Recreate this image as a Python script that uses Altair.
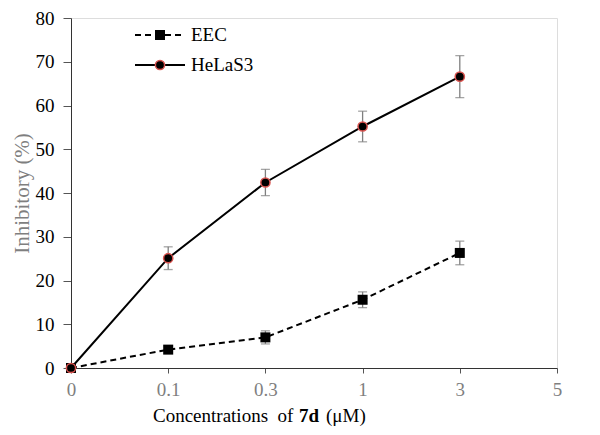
import altair as alt
import pandas as pd

# ---- data ----
x_tick_labels = ["0", "0.1", "0.3", "1", "3", "5"]
conc_points = ["0", "0.1", "0.3", "1", "3"]
series_names = ["EEC", "HeLaS3"]
eec_values = [0.0, 4.2, 7.0, 15.6, 26.3]
eec_errors = [0.0, 0.8, 1.5, 1.8, 2.7]
hela_values = [0.0, 25.1, 42.4, 55.2, 66.6]
hela_errors = [0.0, 2.6, 3.0, 3.5, 4.8]

rows = []
for name, vals, errs in [("EEC", eec_values, eec_errors), ("HeLaS3", hela_values, hela_errors)]:
    for i, (c, v, e) in enumerate(zip(conc_points, vals, errs)):
        rows.append({"series": name, "conc": c, "idx": i, "value": v,
                     "lo": v - e, "hi": v + e, "err": e})
df = pd.DataFrame(rows)

FONT = "Liberation Serif"
label_expr = "[" + ",".join("'%s'" % s for s in x_tick_labels) + "][datum.value]"

x_enc = alt.X("idx:Q", scale=alt.Scale(domain=[0, 5]),
              axis=alt.Axis(values=list(range(len(x_tick_labels))), labelExpr=label_expr,
                            title=None, grid=False, tickSize=5, labelPadding=7, labelFlush=False,
                            labelColor="#7f7f7f", labelFont=FONT, labelFontSize=19,
                            tickColor="#555555", domainColor="#333333"))
y_scale = alt.Scale(domain=[0, 80])
y_axis = alt.Axis(values=list(range(0, 81, 10)), grid=False, tickSize=8, labelPadding=9,
                  labelFlush=False,
                  labelColor="#000000", labelFont=FONT, labelFontSize=19,
                  tickColor="#555555", domainColor="#333333",
                  title="Inhibitory (%)", titleFont=FONT, titleFontSize=21,
                  titleFontWeight="normal", titleColor="#7f7f7f", titlePadding=3)

err_df = df[df["err"] > 0]
err_rule = alt.Chart(err_df).mark_rule(color="#7f7f7f", strokeWidth=1.3).encode(
    x=x_enc, y=alt.Y("lo:Q", scale=y_scale, axis=y_axis), y2="hi:Q")
cap_lo = alt.Chart(err_df).mark_tick(color="#7f7f7f", thickness=1.3, size=9, orient="horizontal").encode(
    x=x_enc, y=alt.Y("lo:Q", scale=y_scale))
cap_hi = alt.Chart(err_df).mark_tick(color="#7f7f7f", thickness=1.3, size=9, orient="horizontal").encode(
    x=x_enc, y=alt.Y("hi:Q", scale=y_scale))

eec_df = df[df["series"] == "EEC"]
hela_df = df[df["series"] == "HeLaS3"]

eec_line = alt.Chart(eec_df).mark_line(color="black", strokeWidth=2, strokeDash=[6, 4]).encode(
    x=x_enc, y=alt.Y("value:Q", scale=y_scale))
hela_line = alt.Chart(hela_df).mark_line(color="black", strokeWidth=2).encode(
    x=x_enc, y=alt.Y("value:Q", scale=y_scale))
eec_pts = alt.Chart(eec_df).mark_point(shape="square", filled=True, color="black", size=100, opacity=1).encode(
    x=x_enc, y=alt.Y("value:Q", scale=y_scale))
hela_pts = alt.Chart(hela_df).mark_point(shape="circle", filled=True, fill="black", stroke="#d9534f",
                                         strokeWidth=1.5, size=85, opacity=1).encode(
    x=x_enc, y=alt.Y("value:Q", scale=y_scale))

# ---- legend (manual) ----
leg_eec = pd.DataFrame({"label": [series_names[0]]})
leg_hela = pd.DataFrame({"label": [series_names[1]]})
lg1_line = alt.Chart(leg_eec).mark_rule(color="black", strokeWidth=2, strokeDash=[6, 4]).encode(
    x=alt.value(64), x2=alt.value(114), y=alt.value(17))
lg1_pt = alt.Chart(leg_eec).mark_point(shape="square", filled=True, color="black", size=100, opacity=1).encode(
    x=alt.value(89), y=alt.value(17))
lg1_txt = alt.Chart(leg_eec).mark_text(font=FONT, fontSize=19, align="left", baseline="middle", color="black").encode(
    x=alt.value(120), y=alt.value(17), text="label:N")
lg2_line = alt.Chart(leg_hela).mark_rule(color="black", strokeWidth=2).encode(
    x=alt.value(64), x2=alt.value(114), y=alt.value(47))
lg2_pt = alt.Chart(leg_hela).mark_point(shape="circle", filled=True, fill="black", stroke="#d9534f",
                                        strokeWidth=1.5, size=85, opacity=1).encode(
    x=alt.value(89), y=alt.value(47))
lg2_txt = alt.Chart(leg_hela).mark_text(font=FONT, fontSize=19, align="left", baseline="middle", color="black").encode(
    x=alt.value(120), y=alt.value(47), text="label:N")

# ---- x title with bold part ----
title_parts = pd.DataFrame({"t": ["Concentrations\u00a0\u00a0of", "7d", "(\u03bcM)"]})
t1 = alt.Chart(title_parts.iloc[[0]]).mark_text(font=FONT, fontSize=19, align="left", baseline="alphabetic", color="black").encode(
    x=alt.value(82), y=alt.value(404), text="t:N")
t2 = alt.Chart(title_parts.iloc[[1]]).mark_text(font=FONT, fontSize=19, fontWeight="bold", align="left", baseline="alphabetic", color="black").encode(
    x=alt.value(228), y=alt.value(404), text="t:N")
t3 = alt.Chart(title_parts.iloc[[2]]).mark_text(font=FONT, fontSize=19, align="left", baseline="alphabetic", color="black").encode(
    x=alt.value(255), y=alt.value(404), text="t:N")

chart = alt.layer(
    err_rule, cap_lo, cap_hi, eec_line, hela_line, eec_pts, hela_pts,
    lg1_line, lg1_pt, lg1_txt, lg2_line, lg2_pt, lg2_txt, t1, t2, t3
).properties(
    width=486, height=350,
    padding={"left": 63, "top": 10, "right": 35, "bottom": 59},
    autosize=alt.AutoSizeParams(type="none"),
).configure_view(stroke=None).configure(background="white")

chart.save("out.html", embed_options={"renderer": "svg", "actions": False})
